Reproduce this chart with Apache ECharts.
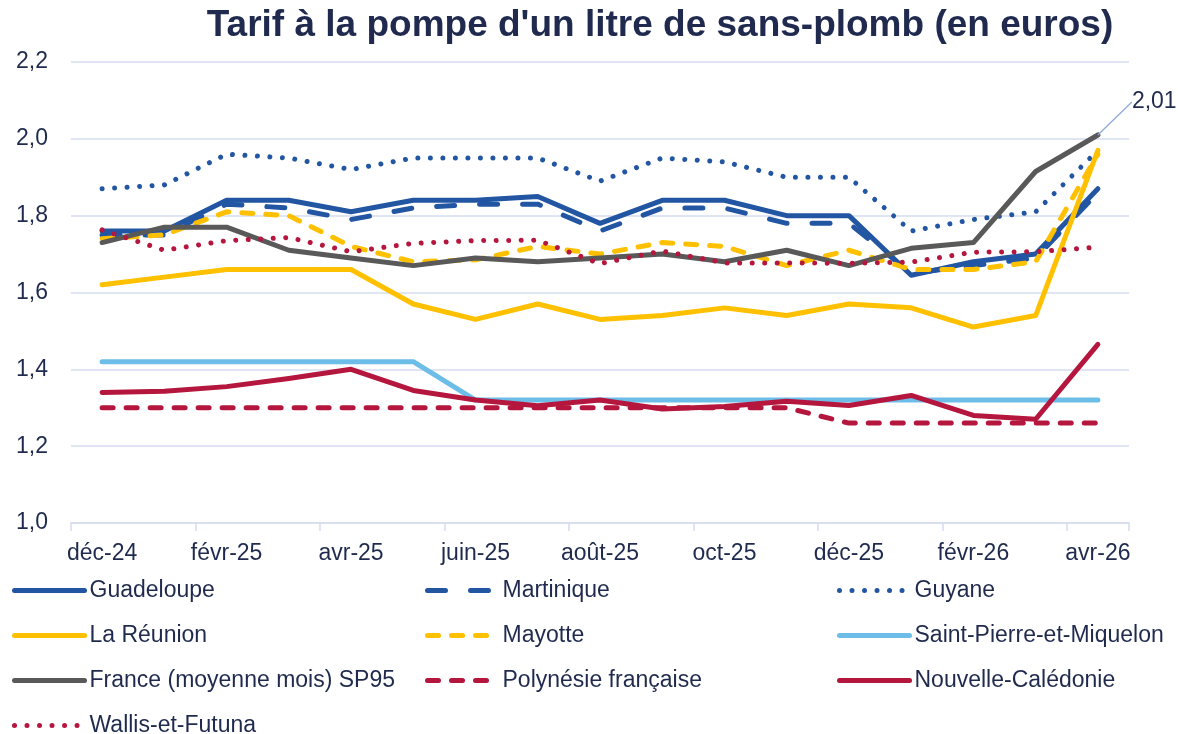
<!DOCTYPE html>
<html>
<head>
<meta charset="utf-8">
<script src="https://cdn.jsdelivr.net/npm/echarts@6/dist/echarts.min.js"></script>
<style>
  html, body { margin: 0; padding: 0; background: #fff; }
  #chart { width: 1178px; height: 734px; }
</style>
</head>
<body>
<div id="chart"></div>
<script>
// mois (un point par mois, une étiquette sur deux)
const months = [
  'déc-24', 'janv-25', 'févr-25', 'mars-25', 'avr-25', 'mai-25', 'juin-25', 'juil-25',
  'août-25', 'sept-25', 'oct-25', 'nov-25', 'déc-25', 'janv-26', 'févr-26', 'mars-26', 'avr-26'
];

const guadeloupe = [1.76, 1.76, 1.84, 1.84, 1.81, 1.84, 1.84, 1.85, 1.78, 1.84, 1.84, 1.80, 1.80, 1.645, 1.68, 1.70, 1.87];
const martinique = [1.75, 1.75, 1.83, 1.82, 1.79, 1.82, 1.83, 1.83, 1.76, 1.82, 1.82, 1.78, 1.78, 1.65, 1.67, 1.69, 1.86];
const guyane = [1.87, 1.88, 1.96, 1.95, 1.92, 1.95, 1.95, 1.95, 1.89, 1.95, 1.94, 1.90, 1.90, 1.76, 1.79, 1.81, 1.97];
const reunion = [1.62, 1.64, 1.66, 1.66, 1.66, 1.57, 1.53, 1.57, 1.53, 1.54, 1.56, 1.54, 1.57, 1.56, 1.51, 1.54, 1.97];
const mayotte = [1.74, 1.75, 1.81, 1.80, 1.72, 1.68, 1.685, 1.72, 1.70, 1.73, 1.72, 1.67, 1.71, 1.66, 1.66, 1.68, 1.96];
const saintPierre = [1.42, 1.42, 1.42, 1.42, 1.42, 1.42, 1.32, 1.32, 1.32, 1.32, 1.32, 1.32, 1.32, 1.32, 1.32, 1.32, 1.32];
const france = [1.73, 1.77, 1.77, 1.71, 1.69, 1.67, 1.69, 1.68, 1.69, 1.70, 1.68, 1.71, 1.67, 1.715, 1.73, 1.915, 2.01];
const polynesie = [1.30, 1.30, 1.30, 1.30, 1.30, 1.30, 1.30, 1.30, 1.30, 1.30, 1.30, 1.30, 1.26, 1.26, 1.26, 1.26, 1.26];
const caledonie = [1.34, 1.343, 1.355, 1.376, 1.40, 1.345, 1.32, 1.305, 1.32, 1.297, 1.303, 1.317, 1.306, 1.332, 1.28, 1.27, 1.465];
const wallis = [1.763, 1.71, 1.735, 1.743, 1.706, 1.728, 1.735, 1.736, 1.675, 1.708, 1.677, 1.677, 1.676, 1.679, 1.705, 1.706, 1.718];

const yTicks = [1.0, 1.2, 1.4, 1.6, 1.8, 2.0, 2.2];

const FONT = 'Liberation Sans, Arial, sans-serif';
const textColor = '#1f2a4e';
const gridColor = '#d6ddf0';
const BLUE = '#2256a3';
const GOLD = '#ffc000';
const LIGHT = '#6cbde8';
const GREY = '#595959';
const RED = '#b5163e';

const LW = 5;
const DOT = [0.01, 12.5];
const DASH = [11, 13];
const LONG_DASH = [18, 25];

function mkSeries(name, data, color, type) {
  return {
    name: name,
    type: 'line',
    data: data,
    symbol: 'circle',
    symbolSize: 0,
    showSymbol: true,
    smooth: false,
    color: color,
    itemStyle: { color: color, opacity: 0 },
    lineStyle: { color: color, width: LW, type: type || 'solid', cap: 'round', join: 'round' },
    emphasis: { disabled: true }
  };
}

// France : étiquette sur la dernière valeur
const frSeries = mkSeries('France (moyenne mois) SP95', france, GREY);
frSeries.data = france.map((v, i) => i === france.length - 1
  ? {
      value: v,
      itemStyle: { opacity: 1 },
      label: {
        show: true,
        position: 'right',
        formatter: (p) => p.value.toFixed(2).replace('.', ','),
        fontSize: 23,
        color: textColor,
        opacity: 1,
        padding: [0, 0, 0, 9],
        fontFamily: FONT
      }
    }
  : v);
frSeries.labelLayout = { dx: 20, dy: -33 };
frSeries.labelLine = { show: true, lineStyle: { color: '#8faadc', width: 1.3 } };

const series = [
  mkSeries('Guadeloupe', guadeloupe, BLUE),
  mkSeries('Martinique', martinique, BLUE, LONG_DASH),
  mkSeries('Guyane', guyane, BLUE, DOT),
  mkSeries('La Réunion', reunion, GOLD),
  mkSeries('Mayotte', mayotte, GOLD, DASH),
  mkSeries('Saint-Pierre-et-Miquelon', saintPierre, LIGHT),
  frSeries,
  mkSeries('Polynésie française', polynesie, RED, DASH),
  mkSeries('Nouvelle-Calédonie', caledonie, RED),
  mkSeries('Wallis-et-Futuna', wallis, RED, DOT)
];

function mkLegend(left, names) {
  return {
    orient: 'vertical',
    left: left,
    top: 579,
    height: 200,
    itemWidth: 70,
    itemHeight: 22,
    itemGap: 22,
    padding: 0,
    selectedMode: false,
    data: names,
    itemStyle: { opacity: 0 },
    lineStyle: { width: LW },
    textStyle: {
      fontSize: 23,
      color: textColor,
      lineHeight: 22,
      fontFamily: FONT
    }
  };
}

const chart = echarts.init(document.getElementById('chart'), null, { renderer: 'canvas' });

chart.setOption({
  backgroundColor: '#fff',
  animation: false,
  textStyle: { fontFamily: FONT },
  title: {
    text: "Tarif à la pompe d'un litre de sans-plomb (en euros)",
    left: 655,
    top: 2,
    textAlign: 'center',
    textStyle: {
      fontSize: 37,
      fontWeight: 'bold',
      color: textColor,
      fontFamily: FONT
    }
  },
  legend: [
    mkLegend(12, ['Guadeloupe', 'La Réunion', 'France (moyenne mois) SP95', 'Wallis-et-Futuna']),
    mkLegend(425, ['Martinique', 'Mayotte', 'Polynésie française']),
    mkLegend(837, ['Guyane', 'Saint-Pierre-et-Miquelon', 'Nouvelle-Calédonie'])
  ],
  grid: { left: 71, right: 49, top: 62, bottom: 211, containLabel: false },
  xAxis: {
    type: 'category',
    data: months,
    boundaryGap: true,
    axisLine: { lineStyle: { color: gridColor, width: 1.5 } },
    axisTick: {
      show: true,
      interval: (i) => i % 2 === 0 && i < months.length,
      length: 8,
      lineStyle: { color: gridColor, width: 1.5 }
    },
    axisLabel: {
      interval: 1,
      fontSize: 23,
      color: textColor,
      margin: 19,
      fontFamily: FONT
    },
    splitLine: { show: false }
  },
  yAxis: {
    type: 'value',
    min: yTicks[0],
    max: yTicks[yTicks.length - 1],
    interval: 0.2,
    axisLine: { show: false },
    axisTick: { show: false },
    axisLabel: {
      fontSize: 23,
      color: textColor,
      margin: 23,
      formatter: (v) => v.toFixed(1).replace('.', ','),
      fontFamily: FONT
    },
    splitLine: { lineStyle: { color: gridColor, width: 1.5 } }
  },
  series: series
});
</script>
</body>
</html>
